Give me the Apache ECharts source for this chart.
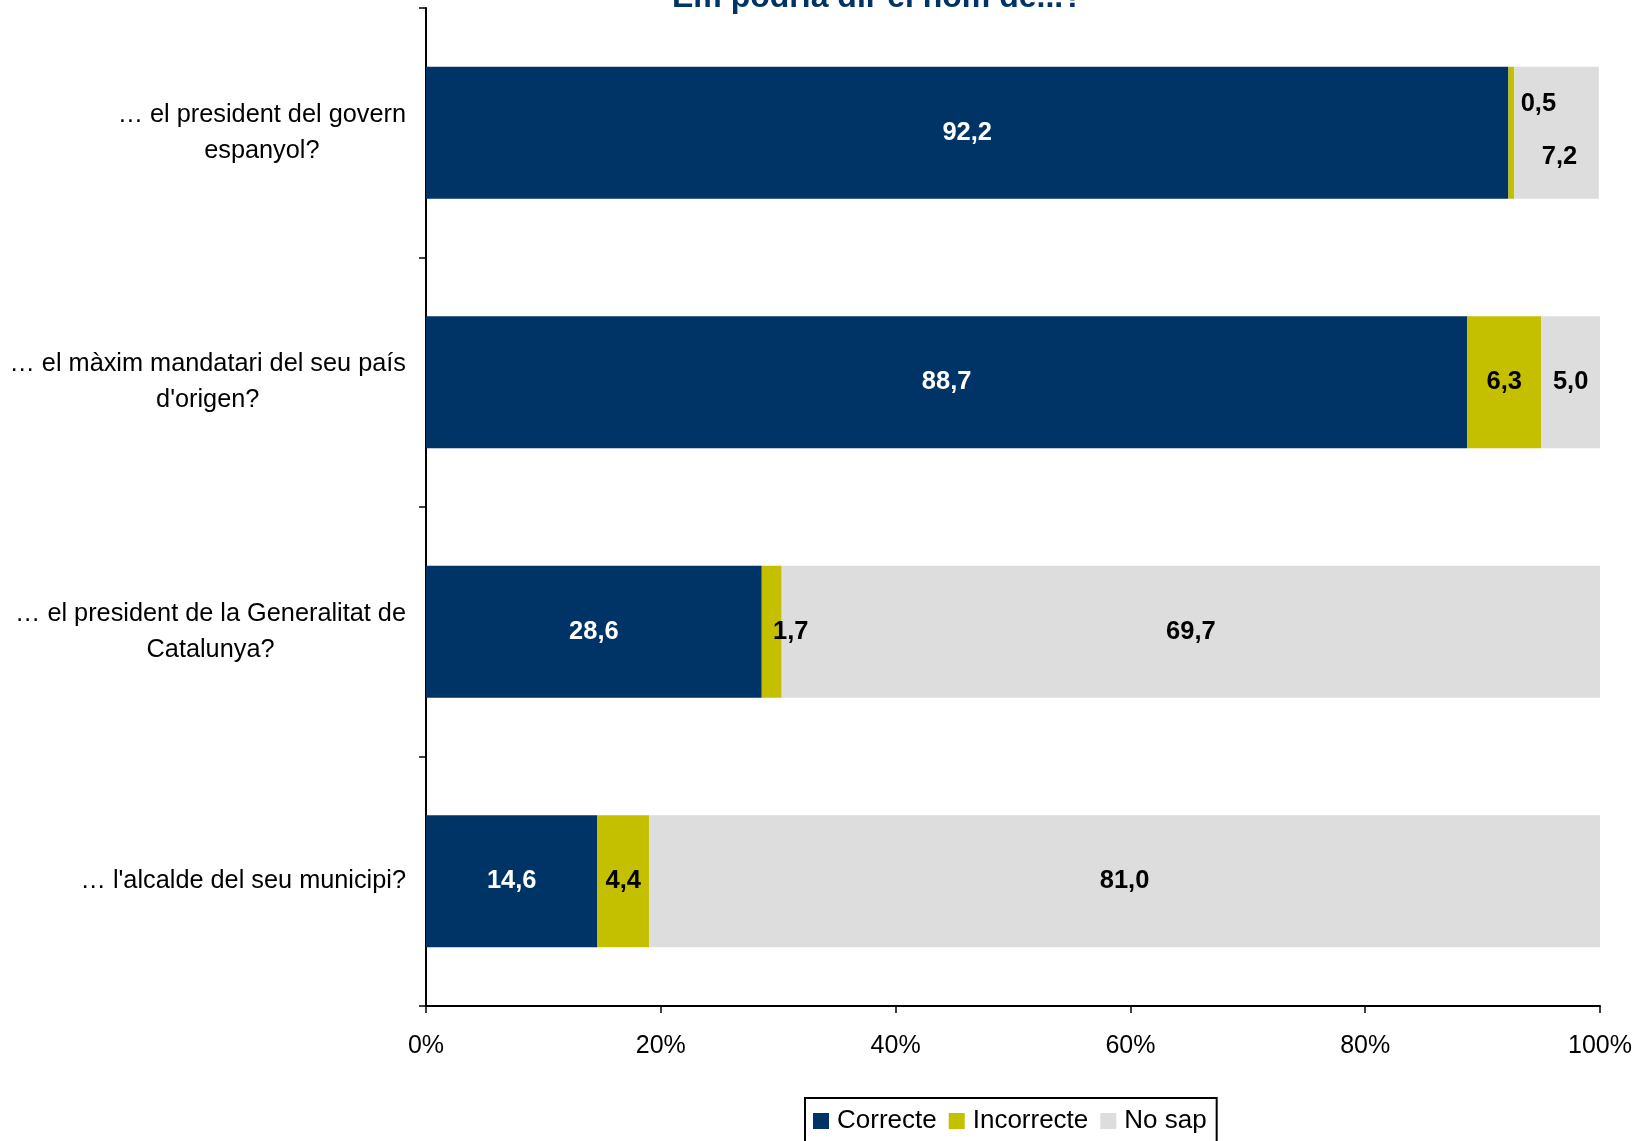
<!DOCTYPE html>
<html>
<head>
<meta charset="utf-8">
<script src="https://cdn.jsdelivr.net/npm/echarts@6/dist/echarts.min.js"></script>
<style>
html, body { margin: 0; padding: 0; background: #fff; }
#chart { width: 1642px; height: 1141px; }
</style>
</head>
<body>
<div id="chart"></div>
<script>
var categories = ['… el president del govern\nespanyol?', '… el màxim mandatari del seu país\nd\'origen?', '… el president de la Generalitat de\nCatalunya?', '… l\'alcalde del seu municipi?'];
var correcte = [92.2, 88.7, 28.6, 14.6];
var incorrecte = [0.5, 6.3, 1.7, 4.4];
var nosap = [7.2, 5.0, 69.7, 81.0];
var xTicks = [0, 20, 40, 60, 80, 100];

var dom = document.getElementById('chart');
var myChart = echarts.init(dom);

function fmt(p) {
    return p.value.toFixed(1).replace('.', ',');
}

// a few labels are moved off the small segments, as in the original
var incData = incorrecte.map(function (v, i) {
    if (i === 0) return { value: v, label: { offset: [27, -29] } };
    if (i === 2) return { value: v, label: { offset: [19, 0] } };
    return v;
});
var nsData = nosap.map(function (v, i) {
    if (i === 0) return { value: v, label: { offset: [3, 24] } };
    return v;
});

var labelBase = {
    show: true,
    position: 'inside',
    formatter: fmt,
    fontFamily: 'Liberation Sans, Arial',
    fontSize: 25.5,
    fontWeight: 'bold'
};

option = {
    animation: false,
    title: {
        text: 'Em podria dir el nom de...?',
        left: 672,
        top: -19,
        padding: 0,
        textStyle: {
            color: '#003366',
            fontFamily: 'Liberation Sans, Arial',
            fontSize: 32,
            fontWeight: 'bold',
            lineHeight: 34
        }
    },
    legend: {
        data: ['Correcte', 'Incorrecte', 'No sap'],
        bottom: -12,
        left: 805,
        icon: 'rect',
        itemWidth: 16,
        itemHeight: 16,
        itemGap: 12,
        borderColor: '#000',
        borderWidth: 2,
        padding: [10, 10, 19, 8],
        textStyle: {
            fontFamily: 'Liberation Sans, Arial',
            fontSize: 26,
            color: '#000',
            padding: [0, 0, 0, 3]
        }
    },
    grid: {
        left: 426,
        right: 42,
        top: 8,
        bottom: 135,
        containLabel: false,
        outerBoundsMode: 'none'
    },
    xAxis: {
        type: 'value',
        min: 0,
        max: 100,
        interval: 20,
        axisLine: { show: true, lineStyle: { color: '#000', width: 2 } },
        axisTick: { show: true, length: 7, lineStyle: { color: '#000', width: 1.5 } },
        splitLine: { show: false },
        axisLabel: {
            margin: 28,
            color: '#000',
            fontFamily: 'Liberation Sans, Arial',
            fontSize: 25,
            formatter: function (v) { return xTicks.indexOf(v) >= 0 ? v + '%' : ''; }
        }
    },
    yAxis: {
        type: 'category',
        data: categories,
        inverse: true,
        axisLine: { show: true, lineStyle: { color: '#000', width: 2 } },
        axisTick: { show: true, length: 7, lineStyle: { color: '#000', width: 1.5 } },
        axisLabel: {
            margin: 20,
            color: '#000',
            fontFamily: 'Liberation Sans, Arial',
            fontSize: 25.3,
            formatter: function (v) {
                return v.split('\n').map(function (s) { return '{c|' + s + '}'; }).join('\n');
            },
            rich: {
                c: {
                    align: 'center',
                    color: '#000',
                    fontFamily: 'Liberation Sans, Arial',
                    fontSize: 25.3,
                    lineHeight: 36
                }
            }
        }
    },
    series: [{
        name: 'Correcte',
        type: 'bar',
        stack: 'total',
        barWidth: '53%',
        data: correcte,
        itemStyle: { color: '#003366' },
        label: Object.assign({}, labelBase, { color: '#fff' })
    }, {
        name: 'Incorrecte',
        type: 'bar',
        stack: 'total',
        data: incData,
        itemStyle: { color: '#C4C000' },
        label: Object.assign({}, labelBase, { color: '#000' })
    }, {
        name: 'No sap',
        type: 'bar',
        stack: 'total',
        data: nsData,
        itemStyle: { color: '#DDDDDD' },
        label: Object.assign({}, labelBase, { color: '#000' })
    }]
};
myChart.setOption(option);
window.onresize = myChart.resize;
</script>
</body>
</html>
